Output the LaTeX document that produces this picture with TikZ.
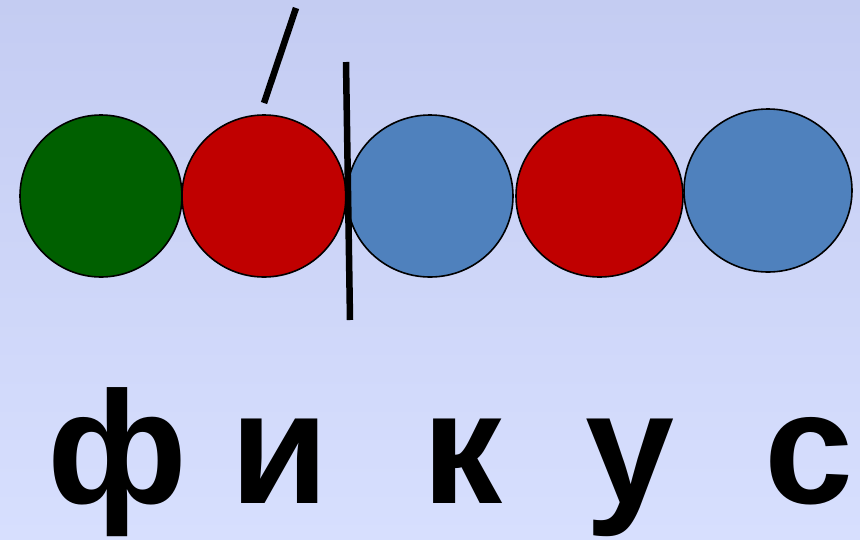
\documentclass[tikz,border=0pt]{standalone}
\usepackage{fontspec}
\setmainfont{Liberation Sans}
\usetikzlibrary{positioning}
\definecolor{bgtop}{HTML}{C4CCF2}
\definecolor{bgbot}{HTML}{D7DFFE}
\definecolor{ballgreen}{HTML}{006000}
\definecolor{ballred}{HTML}{C00000}
\definecolor{ballblue}{HTML}{4F81BD}
\begin{document}
\begin{tikzpicture}[x=1pt,y=-1pt,
  ball/.style={draw=black,line width=1.6pt},
  dashline/.style={line width=6.5pt},
  letter/.style={font=\fontsize{160}{160}\selectfont\bfseries,anchor=base,inner sep=0pt}]
\useasboundingbox (0,0) rectangle (860,539);
\shade[top color=bgtop,bottom color=bgbot] (0,0) rectangle (860,539);
% sound circles
\filldraw[ball,fill=ballgreen] (101,196) ellipse [x radius=81,y radius=81];
\filldraw[ball,fill=ballred] (264,196) ellipse [x radius=82,y radius=81];
\filldraw[ball,fill=ballblue] (430,196) ellipse [x radius=83,y radius=81];
\filldraw[ball,fill=ballred] (599.5,196) ellipse [x radius=83.5,y radius=81];
\filldraw[ball,fill=ballblue] (768,190.5) ellipse [x radius=84,y radius=81.5];
% stress and syllable marks
\coordinate (stresstop) at (296,8);
\coordinate (stressbot) at (264,103);
\draw[dashline] (stresstop) -- (stressbot);
\coordinate (cuttop) at (346,62);
\coordinate (cutbot) at (350,320);
\draw[dashline] (cuttop) -- (cutbot);
% letters
\node[letter] (l1) at (117,503) {ф};
\node[letter] (l2) at (280,503) {и};
\node[letter] (l3) at (463,503) {к};
\node[letter] (l4) at (630,503) {у};
\node[letter] (l5) at (809,503) {с};
\end{tikzpicture}
\end{document}
